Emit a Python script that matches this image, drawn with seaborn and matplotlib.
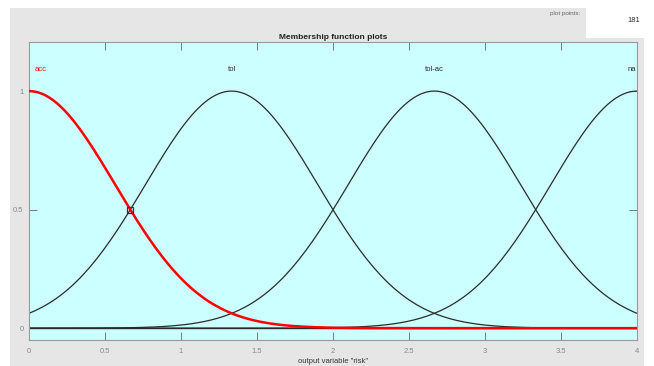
import numpy as np
import pandas as pd
import matplotlib
matplotlib.use("Agg")
import matplotlib.pyplot as plt
import seaborn as sns
from matplotlib.patches import Rectangle

# membership functions of output variable "risk" (gaussmf: sigma, center)
mf_names = ["acc", "tol", "tol-ac", "na"]
mf_centers = [0.0, 1.333, 2.667, 4.0]
mf_sigma = [0.566, 0.566, 0.566, 0.566]
mf_colors = ["#ff0000", "#2b2b2b", "#2b2b2b", "#2b2b2b"]
x_range = [0, 4]
plot_points = 181
x_ticks = [0, 0.5, 1, 1.5, 2, 2.5, 3, 3.5, 4]
x_tick_labels = ["0", "0.5", "1", "1.5", "2", "2.5", "3", "3.5", "4"]
y_ticks = [0, 0.5, 1]
y_tick_labels = ["0", "0.5", "1"]

x = np.linspace(x_range[0], x_range[1], plot_points)
frames = []
for name, c, s in zip(mf_names, mf_centers, mf_sigma):
    frames.append(pd.DataFrame({"x": x, "mu": np.exp(-(x - c) ** 2 / (2 * s ** 2)), "mf": name}))
df = pd.concat(frames, ignore_index=True)

sns.set_style("ticks")
plt.rcParams['font.family'] = ['Liberation Sans Narrow', 'Liberation Sans', 'DejaVu Sans']

fig = plt.figure(figsize=(6.54, 3.66), dpi=100)
fig.patch.set_facecolor("white")

# gray panel and plot-points box
fig.patches.append(Rectangle((10 / 654, 0), 634 / 654, 1 - 8 / 366, transform=fig.transFigure,
                             facecolor="#e6e6e6", edgecolor="none", zorder=-2))
fig.patches.append(Rectangle((586 / 654, 1 - 38 / 366), 58 / 654, 30 / 366, transform=fig.transFigure,
                             facecolor="white", edgecolor="none", zorder=-1))
fig.text(565 / 654, 1 - 14 / 366, "plot points:", fontsize=4.5, color="#666666", ha="center", va="center")
fig.text(640 / 654, 1 - 21 / 366, "181", fontsize=5.5, color="#333333", ha="right", va="center")

ax = fig.add_axes([29 / 654, 1 - 340 / 366, 608 / 654, 298 / 366])
ax.set_zorder(1)
ax.set_facecolor("#ccffff")

ax.axhline(0, color="#2b2b2b", lw=1.0, zorder=1)
sns.lineplot(data=df[df["mf"] != "acc"], x="x", y="mu", hue="mf",
             palette=dict(zip(mf_names, mf_colors)), lw=0.9, legend=False, ax=ax, zorder=2)
sns.lineplot(data=df[df["mf"] == "acc"], x="x", y="mu", color=mf_colors[0],
             lw=1.8, legend=False, ax=ax, zorder=3)

# selected crossing marker
ax.plot([0.667], [0.5], marker="s", ms=5, mfc="none", mec="#333333", mew=0.9, zorder=4)

for i, (name, c) in enumerate(zip(mf_names, mf_centers)):
    ha = "center"
    xpos = c
    if i == 0:
        ha, xpos = "left", 0.04
    elif i == len(mf_names) - 1:
        ha, xpos = "right", c - 0.005
    ax.text(xpos, 1.093, name, ha=ha, va="center", fontsize=5.5, color=mf_colors[i])

ax.set_xlim(*x_range)
ax.set_ylim(-0.05, 1.207)
ax.set_xticks(x_ticks)
ax.set_xticklabels(x_tick_labels)
ax.set_yticks(y_ticks)
ax.set_yticklabels(y_tick_labels)
ax.tick_params(direction="in", length=6, width=0.6, color="#666666", labelsize=5.5,
               labelcolor="#888888", top=True, right=True, pad=6)
ax.tick_params(axis="y", pad=4)
for sp in ax.spines.values():
    sp.set_color("#999999")
    sp.set_linewidth(0.8)

ax.set_xlabel('output variable "risk"', fontsize=5.5, color="#333333", labelpad=2)
ax.set_ylabel("")
ax.set_title("Membership function plots", fontsize=6, fontweight="bold", color="#222222", pad=2)

fig.savefig("out.png", dpi=100, facecolor=fig.get_facecolor())
